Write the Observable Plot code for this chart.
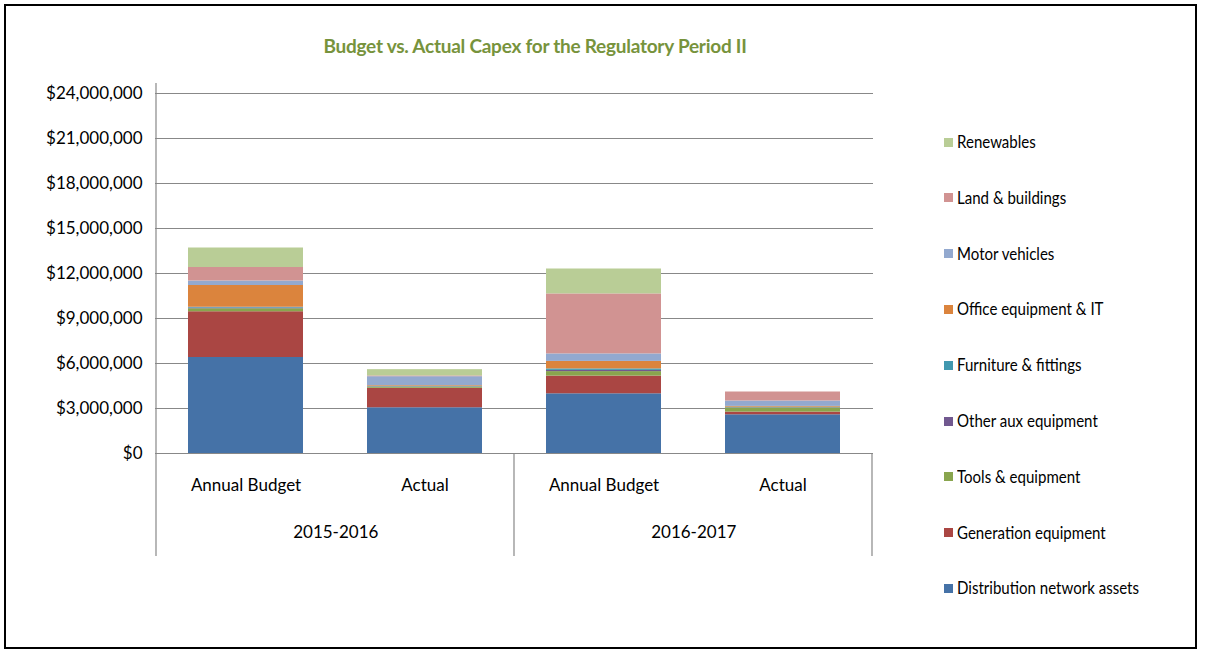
<!DOCTYPE html>
<html><head><meta charset="utf-8">
<script src="https://cdn.jsdelivr.net/npm/d3@7"></script>
<script src="https://cdn.jsdelivr.net/npm/@observablehq/plot@0.6"></script>
<style>
body{margin:0;background:#fff;}
#wrap{position:relative;width:1205px;height:657px;overflow:hidden;font-family:Lato,sans-serif;background:#fff;}
#border{position:absolute;left:4px;top:4px;width:1193px;height:645px;border:2px solid #000;box-sizing:border-box;}
#title{position:absolute;left:0;width:1070px;top:32px;text-align:center;font-family:Lato,sans-serif;font-size:19px;letter-spacing:-0.25px;font-weight:bold;color:#77933C;line-height:28px;}
#chart{position:absolute;left:0;top:0;}
.item{position:absolute;left:944px;height:24px;line-height:24px;font-family:Lato,sans-serif;font-size:17px;color:#000;white-space:nowrap;display:flex;align-items:center;}
.sw{width:9px;height:9px;margin-right:4px;display:inline-block;flex:none;}
.lb{display:inline-block;transform:scaleX(0.885);transform-origin:left center;}
</style></head>
<body><div id="wrap"><div id="border"></div><div id="title">Budget vs. Actual Capex for the Regulatory Period II</div><div id="chart"></div></div>
<script>
// Series (bottom to top in the stack)
const series = ["Distribution network assets","Generation equipment","Tools & equipment","Other aux equipment","Furniture & fittings","Office equipment & IT","Motor vehicles","Land & buildings","Renewables"];
const colors = ["#4572A7","#AA4643","#89A54E","#71588F","#4198AF","#DB843D","#93A9CF","#D19392","#B9CD96"];
// Bars
const periods = ["2015-2016","2015-2016","2016-2017","2016-2017"];
const types = ["Annual Budget","Actual","Annual Budget","Actual"];
// Values per series, one per bar
const distribution = [6400000, 3050000, 3980000, 2580000];
const generation   = [3050000, 1300000, 1180000, 180000];
const tools        = [200000, 80000, 300000, 280000];
const otherAux     = [50000, 20000, 80000, 20000];
const furniture    = [50000, 20000, 100000, 30000];
const office       = [1450000, 50000, 500000, 50000];
const motor        = [300000, 600000, 500000, 360000];
const land         = [900000, 50000, 4000000, 600000];
const renewables   = [1300000, 420000, 1660000, 0];
const yTicks = [0, 3000000, 6000000, 9000000, 12000000, 15000000, 18000000, 21000000, 24000000];

const seriesValues = [distribution, generation, tools, otherAux, furniture, office, motor, land, renewables];
const keys = periods.map((p, j) => p + " " + types[j]);
const data = [];
series.forEach((s, i) => keys.forEach((k, j) => data.push({key: k, series: s, value: seriesValues[i][j]})));
const groupStarts = keys.filter((k, j) => j === 0 || periods[j] !== periods[j - 1]);

const xOpts = {type: "band", domain: keys, range: [155, 873], paddingInner: 0.36, paddingOuter: 0.18};
const xs = Plot.scale({x: xOpts});
const step = xs.step;

const chart = Plot.plot({
  width: 900, height: 600,
  marginLeft: 155, marginRight: 27, marginTop: 93, marginBottom: 147,
  style: {fontFamily: 'Lato,sans-serif', fontSize: "17px", color: "#000", background: "transparent"},
  x: {...xOpts, axis: null},
  y: {domain: [0, 24000000], ticks: yTicks, tickFormat: d3.format("$,.0f"), tickSize: 0, tickPadding: 13, label: null},
  color: {domain: series, range: colors},
  marks: [
    Plot.ruleY(yTicks, {stroke: "#888", strokeWidth: 1.2}),
    Plot.barY(data, {x: "key", y: "value", fill: "series"}),
    Plot.text(keys, {x: d => d, text: (d, i) => types[i], frameAnchor: "bottom", dy: 37, fontSize: 17}),
    Plot.text(groupStarts, {x: d => d, text: d => periods[keys.indexOf(d)], frameAnchor: "bottom", dy: 84, dx: step / 2, fontSize: 17})
  ]
});
document.getElementById("chart").appendChild(chart);

// category-axis lines from the library's scales
const sx = chart.scale("x"), sy = chart.scale("y");
const svg = d3.select(chart);
const y0 = sy.apply(0), yTop = sy.apply(24000000);
const gap = (sx.step - sx.bandwidth) / 2;
const lines = [];
lines.push({x: sx.apply(keys[0]) - gap, y1: yTop - 10, y2: y0 + 103});
groupStarts.slice(1).forEach(k => lines.push({x: sx.apply(k) - gap, y1: y0, y2: y0 + 103}));
lines.push({x: sx.apply(keys[keys.length - 1]) + sx.bandwidth + gap, y1: y0, y2: y0 + 103});
svg.append("g").selectAll("line").data(lines).join("line")
  .attr("x1", d => d.x).attr("x2", d => d.x).attr("y1", d => d.y1).attr("y2", d => d.y2)
  .attr("stroke", "#888").attr("stroke-width", 1.2);

// legend (top to bottom reversed order)
const wrap = document.getElementById("wrap");
series.slice().reverse().forEach((s, i) => {
  const div = document.createElement("div");
  div.className = "item";
  div.style.top = (130 + i * 55.8) + "px";
  const sw = document.createElement("span");
  sw.className = "sw";
  sw.style.background = colors[series.indexOf(s)];
  div.appendChild(sw);
  const lb = document.createElement("span");
  lb.className = "lb";
  lb.textContent = s;
  div.appendChild(lb);
  wrap.appendChild(div);
});
</script></body></html>
